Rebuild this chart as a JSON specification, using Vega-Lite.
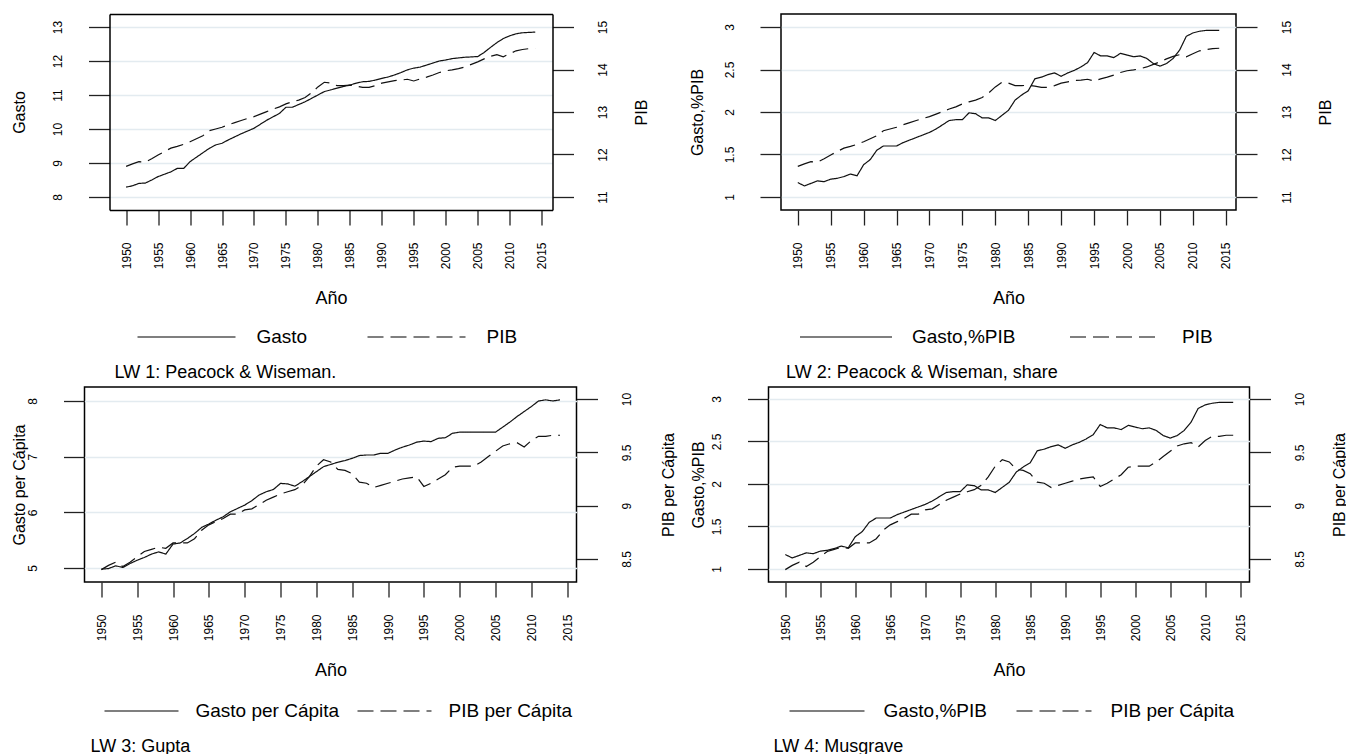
{
"$schema": "https://vega.github.io/schema/vega-lite/v6.json",
"padding": {"left": 9.5, "top": 13, "right": 0, "bottom": 0},
"background": "white",
"data": {"values": [
{"year":1950,"gasto":8.29,"pib":11.72,"gpib":1.17,"gpc":4.98,"pibpc":8.40},
{"year":1951,"gasto":8.33,"pib":11.78,"gpib":1.13,"gpc":4.99,"pibpc":8.44},
{"year":1952,"gasto":8.40,"pib":11.83,"gpib":1.16,"gpc":5.04,"pibpc":8.47},
{"year":1953,"gasto":8.41,"pib":11.82,"gpib":1.19,"gpc":5.01,"pibpc":8.43},
{"year":1954,"gasto":8.50,"pib":11.90,"gpib":1.18,"gpc":5.08,"pibpc":8.47},
{"year":1955,"gasto":8.60,"pib":11.99,"gpib":1.21,"gpc":5.14,"pibpc":8.52},
{"year":1956,"gasto":8.67,"pib":12.07,"gpib":1.22,"gpc":5.19,"pibpc":8.57},
{"year":1957,"gasto":8.74,"pib":12.15,"gpib":1.24,"gpc":5.25,"pibpc":8.59},
{"year":1958,"gasto":8.84,"pib":12.19,"gpib":1.27,"gpc":5.29,"pibpc":8.61},
{"year":1959,"gasto":8.84,"pib":12.24,"gpib":1.25,"gpc":5.25,"pibpc":8.60},
{"year":1960,"gasto":9.04,"pib":12.30,"gpib":1.38,"gpc":5.43,"pibpc":8.65},
{"year":1961,"gasto":9.17,"pib":12.37,"gpib":1.44,"gpc":5.45,"pibpc":8.65},
{"year":1962,"gasto":9.30,"pib":12.44,"gpib":1.55,"gpc":5.53,"pibpc":8.65},
{"year":1963,"gasto":9.43,"pib":12.56,"gpib":1.60,"gpc":5.62,"pibpc":8.69},
{"year":1964,"gasto":9.53,"pib":12.60,"gpib":1.60,"gpc":5.73,"pibpc":8.77},
{"year":1965,"gasto":9.58,"pib":12.64,"gpib":1.60,"gpc":5.79,"pibpc":8.82},
{"year":1966,"gasto":9.68,"pib":12.70,"gpib":1.64,"gpc":5.86,"pibpc":8.85},
{"year":1967,"gasto":9.77,"pib":12.75,"gpib":1.67,"gpc":5.92,"pibpc":8.88},
{"year":1968,"gasto":9.86,"pib":12.80,"gpib":1.70,"gpc":6.01,"pibpc":8.92},
{"year":1969,"gasto":9.94,"pib":12.85,"gpib":1.73,"gpc":6.07,"pibpc":8.92},
{"year":1970,"gasto":10.02,"pib":12.89,"gpib":1.76,"gpc":6.13,"pibpc":8.96},
{"year":1971,"gasto":10.14,"pib":12.95,"gpib":1.80,"gpc":6.21,"pibpc":8.97},
{"year":1972,"gasto":10.26,"pib":13.01,"gpib":1.85,"gpc":6.31,"pibpc":9.01},
{"year":1973,"gasto":10.36,"pib":13.07,"gpib":1.90,"gpc":6.37,"pibpc":9.05},
{"year":1974,"gasto":10.46,"pib":13.12,"gpib":1.91,"gpc":6.41,"pibpc":9.08},
{"year":1975,"gasto":10.64,"pib":13.19,"gpib":1.91,"gpc":6.52,"pibpc":9.11},
{"year":1976,"gasto":10.64,"pib":13.24,"gpib":1.99,"gpc":6.51,"pibpc":9.13},
{"year":1977,"gasto":10.72,"pib":13.28,"gpib":1.98,"gpc":6.47,"pibpc":9.15},
{"year":1978,"gasto":10.80,"pib":13.34,"gpib":1.93,"gpc":6.55,"pibpc":9.19},
{"year":1979,"gasto":10.90,"pib":13.45,"gpib":1.93,"gpc":6.64,"pibpc":9.27},
{"year":1980,"gasto":11.00,"pib":13.59,"gpib":1.90,"gpc":6.73,"pibpc":9.37},
{"year":1981,"gasto":11.10,"pib":13.70,"gpib":1.96,"gpc":6.82,"pibpc":9.43},
{"year":1982,"gasto":11.15,"pib":13.68,"gpib":2.02,"gpc":6.86,"pibpc":9.41},
{"year":1983,"gasto":11.20,"pib":13.62,"gpib":2.14,"gpc":6.90,"pibpc":9.34},
{"year":1984,"gasto":11.25,"pib":13.62,"gpib":2.20,"gpc":6.93,"pibpc":9.33},
{"year":1985,"gasto":11.29,"pib":13.63,"gpib":2.25,"gpc":6.97,"pibpc":9.30},
{"year":1986,"gasto":11.35,"pib":13.61,"gpib":2.39,"gpc":7.02,"pibpc":9.22},
{"year":1987,"gasto":11.39,"pib":13.58,"gpib":2.41,"gpc":7.03,"pibpc":9.21},
{"year":1988,"gasto":11.40,"pib":13.58,"gpib":2.44,"gpc":7.03,"pibpc":9.17},
{"year":1989,"gasto":11.44,"pib":13.62,"gpib":2.46,"gpc":7.06,"pibpc":9.19},
{"year":1990,"gasto":11.49,"pib":13.68,"gpib":2.42,"gpc":7.06,"pibpc":9.21},
{"year":1991,"gasto":11.53,"pib":13.71,"gpib":2.46,"gpc":7.12,"pibpc":9.23},
{"year":1992,"gasto":11.59,"pib":13.74,"gpib":2.49,"gpc":7.17,"pibpc":9.25},
{"year":1993,"gasto":11.66,"pib":13.75,"gpib":2.53,"gpc":7.21,"pibpc":9.26},
{"year":1994,"gasto":11.74,"pib":13.77,"gpib":2.58,"gpc":7.26,"pibpc":9.27},
{"year":1995,"gasto":11.79,"pib":13.73,"gpib":2.70,"gpc":7.28,"pibpc":9.18},
{"year":1996,"gasto":11.82,"pib":13.78,"gpib":2.66,"gpc":7.27,"pibpc":9.21},
{"year":1997,"gasto":11.88,"pib":13.82,"gpib":2.66,"gpc":7.33,"pibpc":9.25},
{"year":1998,"gasto":11.94,"pib":13.87,"gpib":2.64,"gpc":7.34,"pibpc":9.29},
{"year":1999,"gasto":12.00,"pib":13.93,"gpib":2.69,"gpc":7.42,"pibpc":9.36},
{"year":2000,"gasto":12.03,"pib":13.97,"gpib":2.67,"gpc":7.44,"pibpc":9.37},
{"year":2001,"gasto":12.07,"pib":13.99,"gpib":2.65,"gpc":7.44,"pibpc":9.37},
{"year":2002,"gasto":12.09,"pib":14.02,"gpib":2.66,"gpc":7.44,"pibpc":9.37},
{"year":2003,"gasto":12.11,"pib":14.06,"gpib":2.63,"gpc":7.44,"pibpc":9.41},
{"year":2004,"gasto":12.12,"pib":14.12,"gpib":2.57,"gpc":7.44,"pibpc":9.46},
{"year":2005,"gasto":12.13,"pib":14.18,"gpib":2.54,"gpc":7.44,"pibpc":9.51},
{"year":2006,"gasto":12.25,"pib":14.25,"gpib":2.57,"gpc":7.53,"pibpc":9.56},
{"year":2007,"gasto":12.40,"pib":14.31,"gpib":2.63,"gpc":7.62,"pibpc":9.58},
{"year":2008,"gasto":12.54,"pib":14.35,"gpib":2.73,"gpc":7.72,"pibpc":9.59},
{"year":2009,"gasto":12.66,"pib":14.30,"gpib":2.89,"gpc":7.81,"pibpc":9.55},
{"year":2010,"gasto":12.74,"pib":14.37,"gpib":2.93,"gpc":7.90,"pibpc":9.61},
{"year":2011,"gasto":12.80,"pib":14.44,"gpib":2.95,"gpc":8.00,"pibpc":9.65},
{"year":2012,"gasto":12.83,"pib":14.47,"gpib":2.96,"gpc":8.02,"pibpc":9.65},
{"year":2013,"gasto":12.84,"pib":14.49,"gpib":2.96,"gpc":8.00,"pibpc":9.66},
{"year":2014,"gasto":12.85,"pib":14.50,"gpib":2.96,"gpc":8.02,"pibpc":9.66}
]},
"spacing": 3,
"resolve": {"scale": {"strokeDash": "independent"}, "legend": {"strokeDash": "independent"}},
"vconcat": [
{
"spacing": 38.5,
"resolve": {"scale": {"strokeDash": "independent"}, "legend": {"strokeDash": "independent"}},
"hconcat": [
{
"width": 468, "height": 196,
"view": {"stroke": null},
"title": {"text": "LW 1: Peacock & Wiseman.", "dx": 30, "offset": 16.5},
"encoding": {"x": {"field": "year", "type": "quantitative", "title": "Año", "scale": {"domain": [1947.4, 2016.7], "range": [25, 468], "nice": false, "zero": false}, "axis": {"orient": "bottom", "values": [1950,1955,1960,1965,1970,1975,1980,1985,1990,1995,2000,2005,2010,2015], "format": "d", "labelFlush": false, "labelOverlap": false, "titleY": 88, "domain": true, "domainColor": "#000", "domainWidth": 1.5}}},
"layer": [
{"mark": {"type": "line", "color": "#111", "strokeWidth": 1.2},
 "encoding": {
  "y": {"field": "gasto", "type": "quantitative", "title": "Gasto", "scale": {"domain": [7.618, 13.382], "nice": false, "zero": false}, "axis": {"orient": "left", "offset": -25, "values": [8,9,10,11,12,13], "format": "~g", "titleX": -90.5, "labelOverlap": false, "domain": true, "domainColor": "#000", "domainWidth": 1.5}},
  "strokeDash": {"datum": "Gasto", "type": "nominal", "scale": {"domain": ["Gasto", "PIB"], "range": [[1,0],[16,7]]}, "legend": {"title": null, "legendX": 52, "legendY": 313, "symbolSize": 9604, "labelOffset": 20, "columnPadding": 59, "encode": {"symbols": {"update": {"stroke": {"value": "#555"}, "strokeWidth": {"value": 1.5}}}}}}
 }},
{"mark": {"type": "line", "color": "#111", "strokeWidth": 1.2},
 "encoding": {
  "x": {"field": "year", "type": "quantitative", "axis": {"orient": "top", "domain": true, "domainColor": "#000", "domainWidth": 1.5, "ticks": false, "labels": false, "title": null, "grid": false}},
  "y": {"field": "pib", "type": "quantitative", "title": "PIB", "scale": {"domain": [10.694, 15.306], "nice": false, "zero": false}, "axis": {"orient": "right", "values": [11,12,13,14,15], "format": "~g", "titleX": 89, "labelOverlap": false, "domain": true, "domainColor": "#000", "domainWidth": 1.5}},
  "strokeDash": {"datum": "PIB", "type": "nominal"}
 }}
],
"resolve": {"scale": {"y": "independent"}}
},
{
"width": 455, "height": 196,
"title": {"text": "LW 2: Peacock & Wiseman, share", "dx": 5, "offset": 16.5},
"encoding": {"x": {"field": "year", "type": "quantitative", "title": "Año", "scale": {"domain": [1947.45, 2016.55], "nice": false, "zero": false}, "axis": {"values": [1950,1955,1960,1965,1970,1975,1980,1985,1990,1995,2000,2005,2010,2015], "format": "d", "labelFlush": false, "labelOverlap": false, "titleY": 88}}},
"layer": [
{"mark": {"type": "line", "color": "#111", "strokeWidth": 1.2},
 "encoding": {
  "y": {"field": "gpib", "type": "quantitative", "title": "Gasto,%PIB", "scale": {"domain": [0.847, 3.153], "nice": false, "zero": false}, "axis": {"orient": "left", "values": [1,1.5,2,2.5,3], "format": "~g", "titleX": -83.5, "labelOverlap": false}},
  "strokeDash": {"datum": "Gasto,%PIB", "type": "nominal", "scale": {"domain": ["Gasto,%PIB", "PIB"], "range": [[1,0],[16,7]]}, "legend": {"title": null, "legendX": 18, "legendY": 313, "symbolSize": 8464, "labelOffset": 19, "columnPadding": 53, "encode": {"symbols": {"update": {"stroke": {"value": "#555"}, "strokeWidth": {"value": 1.5}}}}}}
 }},
{"mark": {"type": "line", "color": "#111", "strokeWidth": 1.2},
 "encoding": {
  "y": {"field": "pib", "type": "quantitative", "title": "PIB", "scale": {"domain": [10.694, 15.306], "nice": false, "zero": false}, "axis": {"orient": "right", "values": [11,12,13,14,15], "format": "~g", "titleX": 89.5, "labelOverlap": false}},
  "strokeDash": {"datum": "PIB", "type": "nominal"}
 }}
],
"resolve": {"scale": {"y": "independent"}}
}
]
},
{
"spacing": 11,
"resolve": {"scale": {"strokeDash": "independent"}, "legend": {"strokeDash": "independent"}},
"hconcat": [
{
"width": 492, "height": 195,
"title": {"text": "LW 3: Gupta", "dx": 6, "offset": 16.5},
"encoding": {"x": {"field": "year", "type": "quantitative", "title": "Año", "scale": {"domain": [1947.65, 2016.3], "nice": false, "zero": false}, "axis": {"values": [1950,1955,1960,1965,1970,1975,1980,1985,1990,1995,2000,2005,2010,2015], "format": "d", "labelFlush": false, "labelOverlap": false, "titleY": 88}}},
"layer": [
{"mark": {"type": "line", "color": "#111", "strokeWidth": 1.2},
 "encoding": {
  "y": {"field": "gpc", "type": "quantitative", "title": "Gasto per Cápita", "scale": {"domain": [4.749, 8.251], "nice": false, "zero": false}, "axis": {"orient": "left", "values": [5,6,7,8], "format": "~g", "titleX": -65.5, "labelOverlap": false}},
  "strokeDash": {"datum": "Gasto per Cápita", "type": "nominal", "scale": {"domain": ["Gasto per Cápita", "PIB per Cápita"], "range": [[1,0],[16,7]]}, "legend": {"title": null, "legendX": 19, "legendY": 314, "symbolSize": 5476, "labelOffset": 16, "columnPadding": 17, "encode": {"symbols": {"update": {"stroke": {"value": "#555"}, "strokeWidth": {"value": 1.5}}}}}}
 }},
{"mark": {"type": "line", "color": "#111", "strokeWidth": 1.2},
 "encoding": {
  "y": {"field": "pibpc", "type": "quantitative", "title": "PIB per Cápita", "scale": {"domain": [8.284, 10.1125], "nice": false, "zero": false}, "axis": {"orient": "right", "values": [8.5,9,9.5,10], "format": "~g", "titleX": 91.5, "labelOverlap": false}},
  "strokeDash": {"datum": "PIB per Cápita", "type": "nominal"}
 }}
],
"resolve": {"scale": {"y": "independent"}}
},
{
"width": 481, "height": 195,
"title": {"text": "LW 4: Musgrave", "dx": 5, "offset": 16.5},
"encoding": {"x": {"field": "year", "type": "quantitative", "title": "Año", "scale": {"domain": [1947.6, 2016.33], "nice": false, "zero": false}, "axis": {"values": [1950,1955,1960,1965,1970,1975,1980,1985,1990,1995,2000,2005,2010,2015], "format": "d", "labelFlush": false, "labelOverlap": false, "titleY": 88}}},
"layer": [
{"mark": {"type": "line", "color": "#111", "strokeWidth": 1.2},
 "encoding": {
  "y": {"field": "gpib", "type": "quantitative", "title": "Gasto,%PIB", "scale": {"domain": [0.847, 3.141], "nice": false, "zero": false}, "axis": {"orient": "left", "values": [1,1.5,2,2.5,3], "format": "~g", "titleX": -70.5, "labelOverlap": false}},
  "strokeDash": {"datum": "Gasto,%PIB", "type": "nominal", "scale": {"domain": ["Gasto,%PIB", "PIB per Cápita"], "range": [[1,0],[16,7]]}, "legend": {"title": null, "legendX": 20, "legendY": 314, "symbolSize": 5625, "labelOffset": 18, "columnPadding": 28, "encode": {"symbols": {"update": {"stroke": {"value": "#555"}, "strokeWidth": {"value": 1.5}}}}}}
 }},
{"mark": {"type": "line", "color": "#111", "strokeWidth": 1.2},
 "encoding": {
  "y": {"field": "pibpc", "type": "quantitative", "title": "PIB per Cápita", "scale": {"domain": [8.284, 10.1125], "nice": false, "zero": false}, "axis": {"orient": "right", "values": [8.5,9,9.5,10], "format": "~g", "titleX": 90, "labelOverlap": false}},
  "strokeDash": {"datum": "PIB per Cápita", "type": "nominal"}
 }}
],
"resolve": {"scale": {"y": "independent"}}
}
]
}
],
"config": {
 "font": "Liberation Sans",
 "view": {"stroke": "#000", "strokeWidth": 1.5},
 "axis": {"domain": false, "labelFont": "Liberation Sans", "labelFontSize": 12, "labelColor": "#000", "titleFont": "Liberation Sans", "titleFontWeight": "normal", "titleColor": "#000", "tickColor": "#222", "tickWidth": 1.3, "gridColor": "#e3ebf0", "gridWidth": 1.5},
 "axisX": {"grid": false, "tickSize": 15, "labelAngle": 270, "labelAlign": "right", "labelBaseline": "middle", "labelPadding": 17, "titleFontSize": 18, "titleBaseline": "middle"},
 "axisY": {"tickSize": 21, "labelAngle": 270, "labelAlign": "center", "labelPadding": 24, "titleFontSize": 16, "titleAngle": 270, "titleBaseline": "middle", "titleAlign": "center"},
 "axisLeft": {"grid": true, "labelBaseline": "bottom"},
 "axisRight": {"grid": false, "labelBaseline": "top", "titleAngle": 270},
 "legend": {"orient": "none", "direction": "horizontal", "labelFont": "Liberation Sans", "labelFontSize": 19, "labelColor": "#000", "symbolType": "stroke", "symbolStrokeWidth": 1.5, "symbolStrokeColor": "#555", "clipHeight": 20, "padding": 0, "labelLimit": 400},
 "title": {"orient": "bottom", "anchor": "start", "frame": "group", "font": "Liberation Sans", "fontSize": 18, "fontWeight": "normal", "color": "#000"}
}
}
